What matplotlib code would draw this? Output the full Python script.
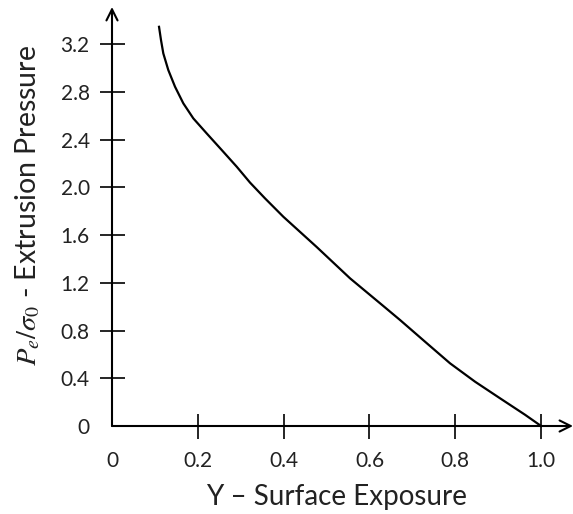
import matplotlib
matplotlib.use("Agg")
import matplotlib.pyplot as plt

# Data
surface_exposure = [0.1096, 0.1142, 0.1196, 0.1312, 0.1469, 0.1662, 0.1895, 0.2207,
                    0.2557, 0.2907, 0.3217, 0.3566, 0.3993, 0.4772, 0.5548, 0.6324,
                    0.6713, 0.7296, 0.7879, 0.8462, 0.9044, 0.9627, 1.0]
extrusion_pressure = [3.344, 3.233, 3.121, 2.982, 2.842, 2.703, 2.577, 2.451,
                      2.312, 2.172, 2.039, 1.907, 1.753, 1.499, 1.237, 1.005,
                      0.888, 0.706, 0.525, 0.371, 0.232, 0.094, 0.0]

x_ticks = [0, 0.2, 0.4, 0.6, 0.8, 1.0]
x_tick_labels = ["0", "0.2", "0.4", "0.6", "0.8", "1.0"]
y_ticks = [0, 0.4, 0.8, 1.2, 1.6, 2.0, 2.4, 2.8, 3.2]
y_tick_labels = ["0", "0.4", "0.8", "1.2", "1.6", "2.0", "2.4", "2.8", "3.2"]

plt.rcParams['font.family'] = ['Lato', 'DejaVu Sans']
plt.rcParams['mathtext.fontset'] = 'stix'

W, H = 573, 514
fig = plt.figure(figsize=(W / 100, H / 100), dpi=100)
ax = fig.add_axes([112 / W, 1 - 426 / H, 461 / W, 419 / H])

ax.plot(surface_exposure, extrusion_pressure, color='black', lw=1.6, clip_on=False,
        solid_joinstyle='round')

ax.set_xlim(0, 1.0744)
ax.set_ylim(0, 3.51)

for s in ax.spines.values():
    s.set_visible(False)

arrow = dict(arrowstyle='->,head_length=0.8,head_width=0.4', lw=1.5, color='black',
             shrinkA=0, shrinkB=0)
ax.annotate('', xy=(1, 0), xytext=(0, 0), xycoords='axes fraction',
            arrowprops=arrow, annotation_clip=False)
ax.annotate('', xy=(0, 1), xytext=(0, 0), xycoords='axes fraction',
            arrowprops=arrow, annotation_clip=False)

ax.set_xticks(x_ticks)
ax.set_xticklabels(x_tick_labels)
ax.set_yticks(y_ticks)
ax.set_yticklabels(y_tick_labels)
ax.tick_params(axis='both', direction='inout', length=18, width=1.2, color='black',
               labelsize=15, labelcolor='#222222')
ax.tick_params(axis='x', pad=9)
ax.tick_params(axis='y', pad=7)
ax.xaxis.get_major_ticks()[0].tick1line.set_visible(False)
ax.yaxis.get_major_ticks()[0].tick1line.set_visible(False)

fig.text(337 / W, 1 - 497 / H, "Y \u2013 Surface Exposure", ha='center', va='center',
         fontsize=20, color='#222222')
fig.text(28 / W, 1 - 206 / H, r"$P_e/\sigma_0$ - Extrusion Pressure", ha='center',
         va='center', rotation=90, fontsize=20.5, color='#222222')

fig.savefig("out.png", dpi=100)
